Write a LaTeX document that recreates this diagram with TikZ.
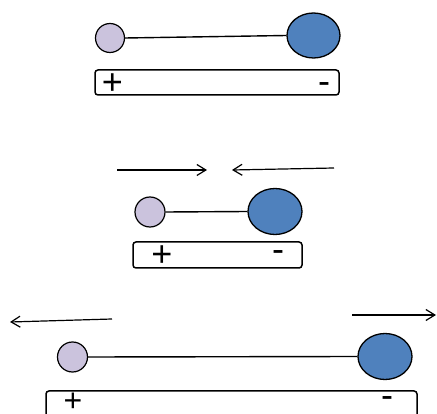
\documentclass[tikz,border=0pt]{standalone}
\usepackage{fontspec}
\setmainfont{Liberation Sans}
\usetikzlibrary{shapes.geometric,arrows.meta}
\definecolor{lav}{HTML}{CBC3DD}
\definecolor{ionblue}{HTML}{4F81BD}
\tikzset{
  small/.style={circle,draw=black,fill=lav,line width=1.2pt,inner sep=0pt},
  big/.style={ellipse,draw=black,fill=ionblue,line width=1.3pt,inner sep=0pt,minimum width=54pt,minimum height=46pt},
  bond/.style={line width=1.4pt},
  bar/.style={rectangle,draw=black,line width=1.5pt,rounded corners=3pt,inner sep=0pt},
  sign/.style={font=\fontsize{36}{36}\selectfont,inner sep=0pt},
  force/.style={line width=1.2pt,-{Straight Barb[length=9pt,width=11pt,line width=1.2pt]}}
}
\begin{document}
\begin{tikzpicture}[x=1pt,y=-1pt]
\useasboundingbox (0,0) rectangle (437,414);
\clip (0,0) rectangle (437,414);
% panel 1
\node[bar,minimum width=244pt,minimum height=25pt] (b1) at (217,82.5) {};
\node[sign] (p1) at (112.5,84) {+};
\node[sign] (m1) at (324,88) {-};
\node[small,minimum size=29pt] (s1) at (110,38) {};
\node[big,minimum width=53pt,minimum height=45pt] (e1) at (313.5,35.5) {};
\draw[bond] (s1.east) -- (e1.west);
% panel 2
\coordinate (a1s) at (117,170);
\coordinate (a1e) at (207,170);
\coordinate (a2s) at (334,168);
\coordinate (a2e) at (232,170);
\draw[force] (a1s) -- (a1e);
\draw[force] (a2s) -- (a2e);
\node[bar,minimum width=169pt,minimum height=26pt] (b2) at (217.5,255) {};
\node[sign] (p2) at (162,256) {+};
\node[sign] (m2) at (278,256) {-};
\node[small,minimum size=30pt] (s2) at (150,212) {};
\node[big] (e2) at (275,211.5) {};
\draw[bond] (s2.east) -- (e2.west);
% panel 3
\coordinate (a3s) at (112,319);
\coordinate (a3e) at (10,322);
\coordinate (a4s) at (352,315);
\coordinate (a4e) at (436,315);
\draw[force] (a3s) -- (a3e);
\draw[force] (a4s) -- (a4e);
\node[bar,minimum width=371pt,minimum height=40pt] (b3) at (231.5,411) {};
\node[sign,font=\fontsize{32}{32}\selectfont] (p3) at (73,402) {+};
\node[sign] (m3) at (387,402.5) {-};
\node[small,minimum size=30pt] (s3) at (72.5,357) {};
\node[big] (e3) at (385,356.5) {};
\draw[bond] (s3.east) -- (e3.west);
\end{tikzpicture}
\end{document}
